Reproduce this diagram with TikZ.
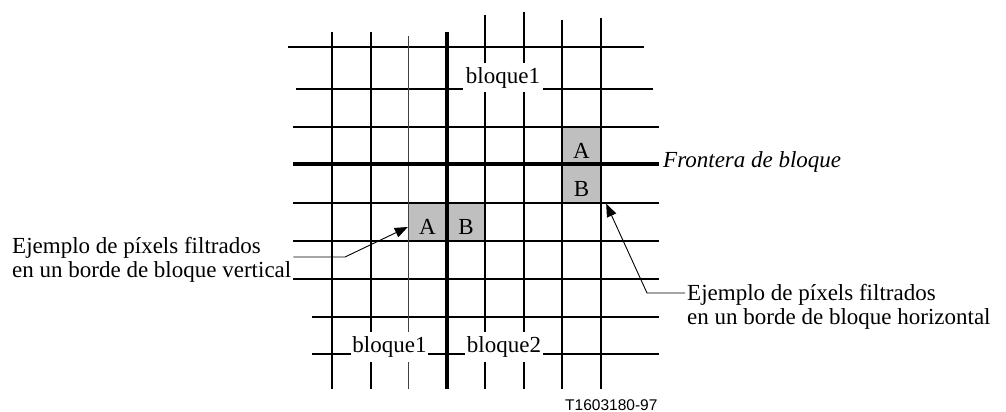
\documentclass[tikz,border=0pt]{standalone}
\usepackage{fontspec}
\setmainfont{Liberation Serif}
\setsansfont{Liberation Sans}
\usetikzlibrary{arrows.meta,positioning}

\begin{document}
\begin{tikzpicture}[
  x=1pt, y=-1pt,
  gridline/.style={line width=2pt},
  boundary/.style={line width=4pt},
  thinline/.style={line width=0.9pt, black!75},
  pixel/.style={fill=black!25, minimum width=39pt, minimum height=38pt, inner sep=0pt,
    text height=25pt, text depth=0pt, font=\fontsize{23}{25}\selectfont},
  blocklabel/.style={fill=white, inner sep=0pt, font=\fontsize{23}{25}\selectfont},
  note/.style={align=left, inner sep=2pt, font=\fontsize{23}{24}\selectfont},
  pointer/.style={line width=0.9pt, -{Triangle[length=13pt,width=10pt]}}
]
\useasboundingbox (0,0) rectangle (1006,412);

% pixels filtrados
\node[pixel] (hA) at (581.5,145.5) {A};
\node[pixel] (hB) at (581.5,183.5) {B};
\node[pixel] (vA) at (427.5,222) {A};
\node[pixel] (vB) at (466,222) {B};

% rejilla
\foreach \y/\a/\b in {47/288/644, 89/296/653, 127/293/659, 203/293/659,
    241/293/659, 279/293/659, 317/312/659, 354/312/659}
  \draw[gridline] (\a,\y) -- (\b,\y);
\foreach \x/\a in {332/32, 371/32, 485/15, 524/12, 562/20, 601/18}
  \draw[gridline] (\x,\a) -- (\x,389);
\draw[thinline] (408,36) -- (408,389);
\draw[boundary] (293,164) -- (659,164);
\draw[boundary] (447,32) -- (447,389);

% bloques
\node[blocklabel, minimum width=80pt, minimum height=29pt] (top1) at (503,77.5) {bloque1};
\node[blocklabel, minimum width=77pt, minimum height=30pt] (bot1) at (389.5,347) {bloque1};
\node[blocklabel, minimum width=78pt, minimum height=30pt] (bot2) at (504,347) {bloque2};

\node[note, anchor=west, font=\fontsize{23}{24}\selectfont\itshape] (frontera) at (661,162) {Frontera de bloque};

\node[note, anchor=west] (vnote) at (10,259.5) {Ejemplo de píxels filtrados\\en un borde de bloque vertical};
\node[note, anchor=west] (hnote) at (685,306.5) {Ejemplo de píxels filtrados\\en un borde de bloque horizontal};
\coordinate (vbend) at (345,257);
\coordinate (hbend) at (647,293);
\draw[pointer] (vnote.east |- vbend) -- (vbend) -- ([yshift=-5pt]vA.west);
\draw[pointer] (hnote.west |- hbend) -- (hbend) -- ([xshift=5pt,yshift=-1pt]hB.south east);

\node[font=\sffamily\fontsize{15.5}{17}\selectfont, anchor=west, inner sep=0pt] (code) at (565,405) {T1603180-97};
\end{tikzpicture}
\end{document}
